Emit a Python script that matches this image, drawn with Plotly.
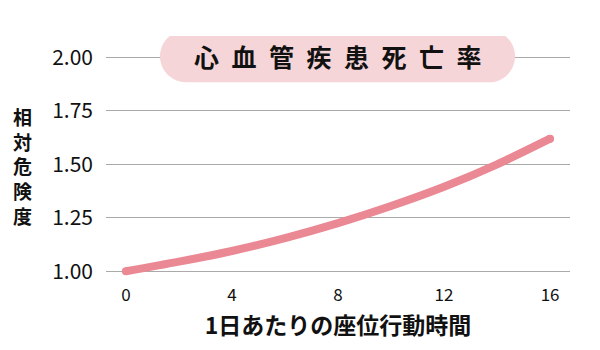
import plotly.graph_objects as go

# Data
hours = [0, 2, 4, 6, 8, 10, 12, 14, 16]
relative_risk = [1.00, 1.045, 1.095, 1.155, 1.225, 1.305, 1.395, 1.50, 1.62]
x_ticks = [0, 4, 8, 12, 16]
y_ticks = [1.00, 1.25, 1.50, 1.75, 2.00]
title_text = "心血管疾患死亡率"
x_title = "1日あたりの座位行動時間"
y_title = "相対危険度"

FONT = "Noto Sans CJK JP"
LINE_COLOR = "#ea8893"

fig = go.Figure()
fig.add_trace(go.Scatter(
    x=hours, y=relative_risk, mode="lines",
    line=dict(color=LINE_COLOR, width=8, shape="spline", smoothing=0.8),
    hoverinfo="skip", showlegend=False,
))
fig.add_trace(go.Scatter(
    x=[hours[0], hours[-1]], y=[relative_risk[0], relative_risk[-1]], mode="markers",
    marker=dict(color=LINE_COLOR, size=8, line=dict(width=0)),
    hoverinfo="skip", showlegend=False,
))

# rounded title box (pixel path relative to anchor)
hw, hh, r = 177.5, 26.0, 26.0
k = 0.5523 * r
s = hw - r
path = (f"M {-s},{-hh} L {s},{-hh} "
        f"C {s+k},{-hh} {hw},{-k} {hw},0 "
        f"C {hw},{k} {s+k},{hh} {s},{hh} "
        f"L {-s},{hh} "
        f"C {-s-k},{hh} {-hw},{k} {-hw},0 "
        f"C {-hw},{-k} {-s-k},{-hh} {-s},{-hh} Z")
L, R = 106, 30
plot_w = 600 - L - R
fig.add_shape(type="path", path=path, xref="paper", yref="y",
              xsizemode="pixel", ysizemode="pixel",
              xanchor=(337.5 - L) / plot_w, yanchor=y_ticks[-1] + 0.005,
              fillcolor="#f6d5d8", line=dict(width=0), layer="above")

sp = "\u2002"
fig.add_annotation(text=sp.join(title_text), xref="paper", yref="y",
                   x=(337.5 - L) / plot_w, y=y_ticks[-1] + 0.005,
                   showarrow=False, font=dict(family=FONT, size=25, color="#111111", weight=700))

fig.add_annotation(text="<br>".join(y_title), xref="paper", yref="paper",
                   x=(22 - L) / plot_w, y=0.47, xanchor="center",
                   showarrow=False, align="center",
                   font=dict(family=FONT, size=19, color="#111111", weight=700))

fig.update_layout(
    width=600, height=350,
    margin=dict(l=L, r=R, t=35.6, b=68.3),
    paper_bgcolor="white", plot_bgcolor="white",
    font=dict(family=FONT, color="#111111"),
    xaxis=dict(range=[-0.75, 16.75], tickvals=x_ticks, showgrid=False, zeroline=False,
               showline=False, tickfont=dict(size=17, weight=400), ticklabelstandoff=1,
               title=dict(text=x_title, font=dict(size=23, weight=700), standoff=12)),
    yaxis=dict(range=[0.95, 2.1], tickvals=y_ticks, ticktext=[f"{v:.2f}" for v in y_ticks],
               showgrid=True, gridcolor="#aaaaaa", gridwidth=1, zeroline=False,
               showline=False, tickfont=dict(size=21, weight=400), ticklabelstandoff=12),
)

fig.write_html("out.html")
